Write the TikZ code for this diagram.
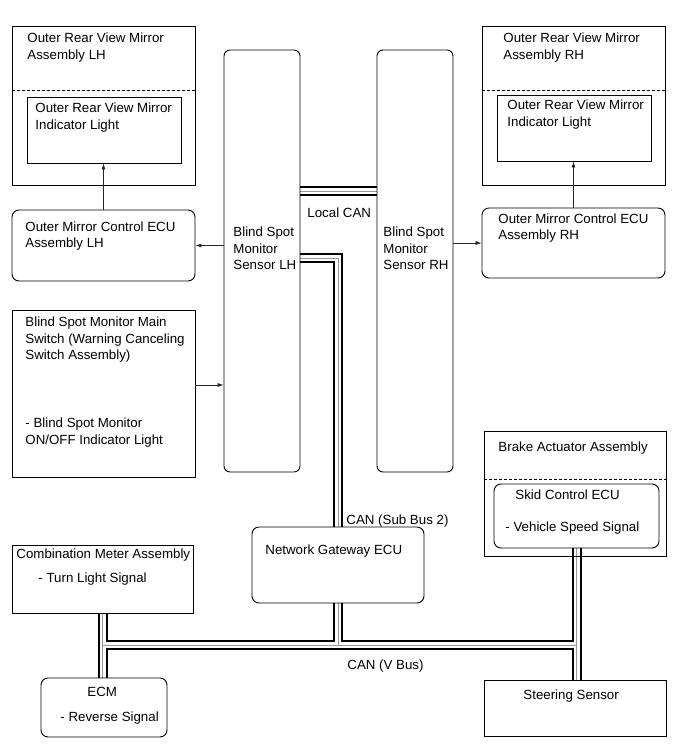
\documentclass[tikz,border=0pt]{standalone}
\usepackage{fontspec}
\setmainfont{Liberation Sans}
\usetikzlibrary{arrows.meta, backgrounds}
\tikzset{
  every picture/.style={font=\fontsize{13.3}{16.5}\selectfont, line width=0.9pt},
  box/.style={draw, inner sep=0pt},
  rbox/.style={box, rounded corners=7pt},
  sz/.style 2 args={minimum width=#1pt, minimum height=#2pt},
}

\begin{document}
\begin{tikzpicture}[x=1pt, y=-1pt,
  txt/.style={anchor=north west, inner sep=0pt, align=left},
  arr/.style={-{Latex[length=6pt, width=4pt]}, draw=black!85, line width=0.6pt},
  bus/.style={draw=black, line width=10pt, postaction={draw=white, line width=6pt},
    postaction={draw=black!40, line width=0.4pt}},
  sep/.style={dash pattern=on 3pt off 2pt, line width=0.8pt}]
  \useasboundingbox (0,0) rectangle (690,756);
  % mirrors and their control units
  \node[box, sz={183}{159}] (mirL) at (103.5,105.5) {};
  \node[box, sz={154}{66}] (indL) at (104,130) {};
  \node[rbox, sz={183}{71}] (ecuL) at (103.5,245.5) {};
  \node[box, sz={183}{159}] (mirR) at (573.5,105.5) {};
  \node[box, sz={154}{66}] (indR) at (574,128) {};
  \node[rbox, sz={183}{70}] (ecuR) at (573.5,243) {};
  \draw[sep] (mirL.west |- 0,90) -- (mirL.east |- 0,90);
  \draw[sep] (mirR.west |- 0,90) -- (mirR.east |- 0,90);
  \node[txt] (mirLt) at (27,32.5) {Outer Rear View Mirror\\Assembly LH};
  \node[txt] (indLt) at (35,102.5) {Outer Rear View Mirror\\Indicator Light};
  \node[txt] (ecuLt) at (25,221) {Outer Mirror Control ECU\\Assembly LH};
  \node[txt] (mirRt) at (503,32.5) {Outer Rear View Mirror\\Assembly RH};
  \node[txt] (indRt) at (507,99.5) {Outer Rear View Mirror\\Indicator Light};
  \node[txt] (ecuRt) at (498,213) {Outer Mirror Control ECU\\Assembly RH};
  % sensors
  \node[rbox, rounded corners=6pt, sz={76}{422}] (lhs) at (262,261) {};
  \node[rbox, rounded corners=6pt, sz={76}{422}] (rhs) at (415,261) {};
  \node[txt] (lhst) at (233,226.5) {Blind Spot\\Monitor\\Sensor LH};
  \node[txt] (rhst) at (383,226.5) {Blind Spot\\Monitor\\Sensor RH};
  \node[txt] (lcan) at (307,207.5) {Local CAN};
  % main switch
  \node[box, sz={183}{167}] (sw) at (103.5,393.5) {};
  \node[txt] (swt) at (25,316.5) {Blind Spot Monitor Main\\Switch (Warning Canceling\\Switch Assembly)};
  \node[txt] (swi) at (25,417.5) {- Blind Spot Monitor\\ON/OFF Indicator Light};
  % gateway and V bus members
  \node[rbox, sz={172}{76}] (gw) at (338,565) {};
  \node[txt] (gwt) at (265,544.5) {Network Gateway ECU};
  \node[txt] (sub) at (346,514.5) {CAN (Sub Bus 2)};
  \node[box, sz={182}{125}] (brake) at (575,493.5) {};
  \draw[sep] (brake.west |- 0,479) -- (brake.east |- 0,479);
  \node[rbox, sz={165}{64}] (skid) at (576.5,516) {};
  \node[txt] (braket) at (498,441.5) {Brake Actuator Assembly};
  \node[txt] (skidt) at (515,489.5) {Skid Control ECU};
  \node[txt] (skids) at (505,521) {- Vehicle Speed Signal};
  \node[box, sz={181}{68}] (meter) at (102.5,579) {};
  \node[txt] (metert) at (16,548.5) {Combination Meter Assembly};
  \node[txt] (meters) at (38,572.5) {- Turn Light Signal};
  \node[rbox, sz={126}{59}] (ecm) at (104,707.5) {};
  \node[txt] (ecmt) at (87,686.5) {ECM};
  \node[txt] (ecms) at (60,711.5) {- Reverse Signal};
  \node[box, sz={182}{56}] (steer) at (575,708) {};
  \node[txt] (steert) at (523,689.5) {Steering Sensor};
  \node[txt] (vbt) at (347,659.5) {CAN (V Bus)};
  \coordinate (vbus) at (338,645);
  % signals
  \draw[arr] (ecuL.north) -- (ecuL.north |- indL.south);
  \draw[arr] (ecuR.north) -- (ecuR.north |- indR.south);
  \draw[arr] (lhs.west |- ecuL.east) -- (ecuL.east);
  \draw[arr] (rhs.east |- ecuR.west) -- (ecuR.west);
  \draw[arr] ([yshift=8.5pt]sw.east) -- ([yshift=8.5pt]sw.east -| lhs.west);
  % CAN lines
  \begin{scope}[on background layer]
    \draw[bus] ([yshift=70pt]lhs.east) -- ([yshift=70pt]rhs.west);
    \draw[bus] ([yshift=3pt]lhs.east) -| (gw.north);
    \draw[bus] (meter.south) -- (meter.south |- ecm.north)
      (gw.south) -- (vbus)
      (meter.south |- vbus) -- (skid.south |- vbus)
      (skid.south) -- (skid.south |- steer.north);
  \end{scope}
\end{tikzpicture}
\end{document}
